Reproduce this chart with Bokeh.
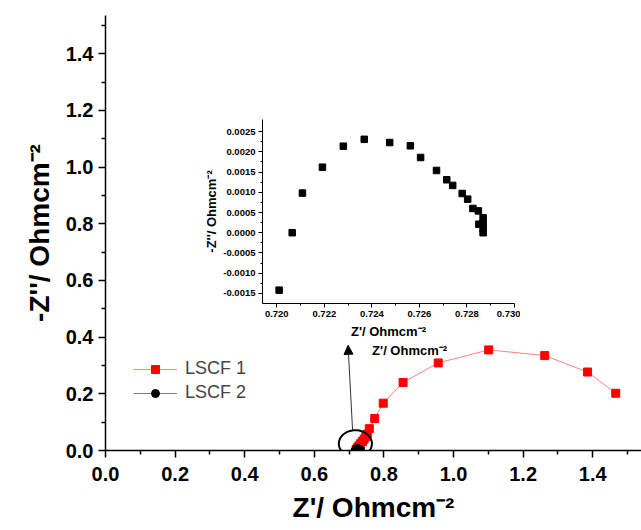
import numpy as np
from bokeh.plotting import figure
from bokeh.models import (FixedTicker, NumeralTickFormatter, Legend, LegendItem, GridBox,
                          Arrow, NormalHead, Label, PolyAnnotation)
from bokeh.embed import file_html
from bokeh.resources import INLINE

# ---------------- data ----------------
lscf1_x = [0.7205, 0.724, 0.728, 0.733, 0.738, 0.743, 0.748, 0.752, 0.758, 0.7735,
           0.798, 0.855, 0.956, 1.101, 1.262, 1.385, 1.466]
lscf1_y = [0.004, 0.010, 0.016, 0.024, 0.032, 0.040, 0.049, 0.058, 0.077, 0.113,
           0.167, 0.240, 0.309, 0.355, 0.335, 0.277, 0.202]

lscf2_x = [0.7201, 0.72065, 0.72108, 0.72192, 0.72280, 0.72368, 0.72475, 0.72562,
           0.72605, 0.72672, 0.72715, 0.72740, 0.72780, 0.72803, 0.72825, 0.72848,
           0.72868, 0.72850, 0.72868, 0.72868, 0.72868]
lscf2_y = [-0.00142, 0.0000, 0.00098, 0.00162, 0.00214, 0.00231, 0.00223, 0.00215,
           0.00186, 0.00154, 0.00131, 0.00117, 0.00097, 0.00083, 0.00060, 0.00054,
           0.00037, 0.00021, 0.00025, 0.00010, 0.00000]

main_x_ticks = [0.0, 0.2, 0.4, 0.6, 0.8, 1.0, 1.2, 1.4]
main_x_minor = [0.1, 0.3, 0.5, 0.7, 0.9, 1.1, 1.3, 1.5]
main_y_ticks = [0.0, 0.2, 0.4, 0.6, 0.8, 1.0, 1.2, 1.4]
main_y_minor = [0.1, 0.3, 0.5, 0.7, 0.9, 1.1, 1.3, 1.5]
inset_x_ticks = [0.720, 0.722, 0.724, 0.726, 0.728, 0.730]
inset_x_minor = [0.721, 0.723, 0.725, 0.727, 0.729]
inset_y_ticks = [-0.0015, -0.0010, -0.0005, 0.0, 0.0005, 0.0010, 0.0015, 0.0020, 0.0025]
inset_y_minor = [-0.00125, -0.00075, -0.00025, 0.00025, 0.00075, 0.00125, 0.00175, 0.00225]

series_names = ["LSCF 1", "LSCF 2"]
x_title = "Z'/ Ohmcm\u207b\u00b2"
y_title = "-Z''/ Ohmcm\u207b\u00b2"

FONT = "Liberation Sans"

# ---------------- main figure ----------------
p = figure(width=641, height=530, x_range=(0, 1.540), y_range=(0, 1.535),
           output_backend="svg", toolbar_location=None,
           min_border_left=105, min_border_right=0, min_border_top=15, min_border_bottom=80)
p.outline_line_color = None
p.xgrid.visible = False
p.ygrid.visible = False


def style_axis(ax, ticks, minor, fmt, tick_size, title_size, tick_out, minor_out, lw,
               standoff, title_standoff):
    ax.ticker = FixedTicker(ticks=ticks, minor_ticks=minor)
    ax.formatter = NumeralTickFormatter(format=fmt)
    ax.major_label_text_font = FONT
    ax.major_label_text_font_style = "bold"
    ax.major_label_text_font_size = tick_size
    ax.major_label_text_color = "black"
    ax.axis_label_text_font = FONT
    ax.axis_label_text_font_style = "bold"
    ax.axis_label_text_font_size = title_size
    ax.axis_label_text_color = "black"
    ax.major_tick_in = 0
    ax.major_tick_out = tick_out
    ax.minor_tick_in = 0
    ax.minor_tick_out = minor_out
    ax.axis_line_width = lw
    ax.major_tick_line_width = lw
    ax.minor_tick_line_width = lw
    ax.axis_line_color = "black"
    ax.major_tick_line_color = "black"
    ax.minor_tick_line_color = "black"
    ax.major_label_standoff = standoff
    ax.axis_label_standoff = title_standoff


style_axis(p.xaxis[0], main_x_ticks, main_x_minor, "0.0", "20px", "28px", 7, 4, 1.5, 9, 8)
style_axis(p.yaxis[0], main_y_ticks, main_y_minor, "0.0", "20px", "28px", 7, 4, 1.5, 5, 8)
p.xaxis.axis_label = x_title
p.yaxis.axis_label = y_title

r1_line = p.line(lscf1_x, lscf1_y, line_color="#FF8080", line_width=1)
r1_mark = p.scatter(lscf1_x, lscf1_y, marker="square", size=8, fill_color="#FF0000",
                    line_color="#FF0000")
r2_line = p.line(lscf2_x, lscf2_y, line_color="#808080", line_width=1)
r2_mark = p.scatter(lscf2_x, lscf2_y, marker="circle", size=10, fill_color="black",
                    line_color="black")

legend = Legend(items=[LegendItem(label=series_names[0], renderers=[r1_line, r1_mark]),
                       LegendItem(label=series_names[1], renderers=[r2_line, r2_mark])],
                location=(28, 47), orientation="vertical",
                glyph_width=44, glyph_height=20, label_height=20, spacing=3,
                label_standoff=8, padding=0, margin=0,
                label_text_font=FONT, label_text_font_size="18px",
                border_line_color=None, background_fill_alpha=0)
p.add_layout(legend)

# circle around the zoomed region (centred on the LSCF 2 data)
cx = float(np.mean(lscf2_x)) - 0.008
cy = 0.024
rx, ry = 0.0475, 0.0475
t = np.linspace(0, 2 * np.pi, 80)
p.add_layout(PolyAnnotation(xs=list(cx + rx * np.cos(t)), ys=list(cy + ry * np.sin(t)),
                            fill_alpha=0, line_color="black", line_alpha=1.0, line_width=2))

p.add_layout(Arrow(end=NormalHead(size=9, fill_color="black", line_color="black"),
                   x_start=cx - 0.008, y_start=cy + ry, x_end=cx - 0.021, y_end=0.371,
                   line_color="#333333", line_width=1))

p.add_layout(Label(x=0.766, y=0.352, text=x_title, text_font=FONT, text_font_style="bold",
                   text_font_size="13px", text_baseline="middle", text_color="black"))

# ---------------- inset figure ----------------
ins = figure(width=330, height=227, x_range=(0.7194, 0.730), y_range=(-0.00175, 0.0028),
             output_backend="svg", toolbar_location=None,
             min_border_left=72, min_border_right=6, min_border_top=5, min_border_bottom=38)
ins.outline_line_color = None
ins.xgrid.visible = False
ins.ygrid.visible = False
ins.background_fill_alpha = 0
ins.border_fill_alpha = 0
style_axis(ins.xaxis[0], inset_x_ticks, inset_x_minor, "0.000", "9.5px", "13px", 4, 2, 1, 3, 4)
style_axis(ins.yaxis[0], inset_y_ticks, inset_y_minor, "0.0000", "9.5px", "13px", 4, 2, 1, 3, 1)
ins.xaxis.axis_label = x_title
ins.yaxis.axis_label = y_title
ins.scatter(lscf2_x, lscf2_y, marker="square", size=6.5, fill_color="black", line_color="black")

grid = GridBox(children=[(p, 0, 0, 3, 3), (ins, 1, 1, 1, 1)],
               rows=["114px", "227px", "189px"], cols=["190px", "330px", "121px"])

open("out.html", "w").write(file_html(grid, INLINE))
